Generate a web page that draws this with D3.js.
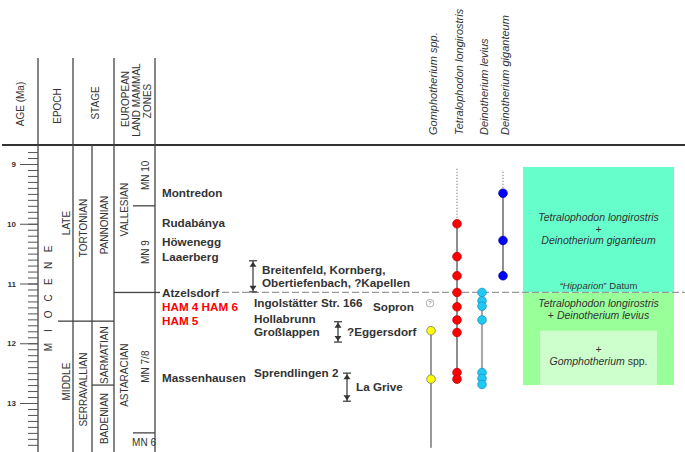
<!DOCTYPE html>
<html>
<head>
<meta charset="utf-8">
<script src="https://cdn.jsdelivr.net/npm/d3@7"></script>
<style>
  body { margin: 0; background: #fff; }
  svg { display: block; font-family: "Liberation Sans", Arial, sans-serif; }
</style>
</head>
<body>
<div id="chart"></div>
<script>
// ---- data (ages in Ma) ----
const ageMajor = [9, 10, 11, 12, 13];
const ageMinor = d3.range(88, 138).map(d => d / 10);

// chronostratigraphy: name, column, top, base
const unitNames = ["LATE", "MIDDLE", "TORTONIAN", "SERRAVALLIAN", "PANNONIAN", "SARMATIAN", "BADENIAN",
                   "VALLESIAN", "ASTARACIAN", "MN 10", "MN 9", "MN 7/8", "MN 6"];
const unitColumn = ["epoch", "epoch", "stageA", "stageA", "stageB", "stageB", "stageB",
                    "elma", "elma", "mn", "mn", "mn", "mn"];
const unitTop  = [8.68, 11.63, 8.68, 11.63, 8.68, 11.63, 12.7, 8.68, 11.15, 8.68, 9.7, 11.15, 13.5];
const unitBase = [11.63, 13.82, 11.63, 13.82, 11.63, 12.7, 13.82, 11.15, 13.82, 9.7, 11.15, 13.5, 13.82];

// localities
const sites = ["Montredon", "Rudabánya", "Höwenegg", "Laaerberg", "Atzelsdorf", "Massenhausen"];
const siteAges = [9.49, 9.99, 10.3, 10.55, 11.15, 12.58];
const hamSites = ["HAM 4 HAM 6", "HAM 5"];
const hamAges = [11.39, 11.62];
const sites2 = ["Ingolstätter Str. 166", "Hollabrunn", "Großlappen", "Sprendlingen 2"];
const sites2Ages = [11.33, 11.6, 11.81, 12.5];
const sopronAge = 11.39;
const rangeSites = [["Breitenfeld, Kornberg,", "Obertiefenbach, ?Kapellen"], ["?Eggersdorf"], ["La Grive"]];
const rangeFrom = [10.62, 11.64, 12.5];
const rangeTo   = [11.14, 11.98, 12.97];

// proboscidean records
const speciesNames = ["Gomphotherium spp.", "Tetralophodon longirostris", "Deinotherium levius", "Deinotherium giganteum"];
const gomphotheriumAges = [11.79, 12.6];
const tetralophodonAges = [10.0, 10.55, 10.87, 11.15, 11.39, 11.61, 11.82, 12.49, 12.6];
const leviusAges = [11.15, 11.29, 11.38, 11.61, 12.49, 12.59, 12.69];
const giganteumAges = [9.49, 10.28, 10.87];
const speciesRange = [[11.79, 13.75], [10.0, 12.6], [11.15, 12.69], [9.49, 10.87]];
const speciesDotted = [null, [9.08, 10.0], null, [9.13, 9.49]];
const uncertainAge = 11.33;

// assemblage zones
const hipparionDatum = 11.15;
const zoneTop  = [9.05, 11.15, 11.79];
const zoneBase = [11.15, 12.7, 12.7];

// ---- layout ----
const W = 685, H = 452;
const headerY = 145, headerTop = 58;
const ink = "#333";
const colX = { epoch: [58, 73], stageA: [73, 92], stageB: [92, 114], elma: [114, 133], mn: [133, 155] };
const unitShift = [-10, -5, -5, 3, -8, 2, 0, -9, 3, 0, 3, 4, 0];
const speciesX = [431, 457, 482, 503];
const speciesFill = ["#ffff00", "#ff0000", "#22c8f2", "#0000ff"];
const speciesStroke = ["#777", "#c00000", "#1596c8", "#0000a0"];
const speciesLine = ["#555", "#444", "#aaa", "#444"];
const speciesLineW = [1.2, 1.2, 2.2, 1.2];
const zoneFill = ["#66ffcc", "#99ff99", "#ccffcc"];
const zoneX = [[523, 674], [523, 674], [540, 657]];

const y = d3.scaleLinear().domain([9, 13]).range([164, 403]);

const svg = d3.select("#chart").append("svg")
    .attr("width", W).attr("height", H);

// ---- assemblage boxes (behind) ----
svg.selectAll(".zone")
    .data(zoneTop)
    .enter().append("rect")
    .attr("x", (d, i) => zoneX[i][0])
    .attr("width", (d, i) => zoneX[i][1] - zoneX[i][0])
    .attr("y", d => y(d))
    .attr("height", (d, i) => y(zoneBase[i]) - y(d))
    .attr("fill", (d, i) => zoneFill[i]);

function boxText(x, yy, parts, size) {
    const t = svg.append("text").attr("x", x).attr("y", yy).attr("text-anchor", "middle")
        .attr("font-size", size || 10.5).attr("fill", ink);
    parts.forEach(p => t.append("tspan").attr("font-style", p[1] ? "italic" : "normal").text(p[0]));
}
const bx = (zoneX[0][0] + zoneX[0][1]) / 2;
const c1 = (y(zoneTop[0]) + y(zoneBase[0])) / 2;
boxText(bx, c1 - 9, [["Tetralophodon longirostris", true]]);
boxText(bx, c1 + 3, [["+", false]]);
boxText(bx, c1 + 14, [["Deinotherium giganteum", true]]);
boxText(bx, y(hipparionDatum) - 3, [["\u201CHipparion", true], ["\u201D Datum", false]], 9.5);
boxText(bx, y(zoneTop[1]) + 15, [["Tetralophodon longirostris", true]]);
boxText(bx, y(zoneTop[1]) + 27, [["+ ", false], ["Deinotherium levius", true]]);
const c3 = (y(zoneTop[2]) + y(zoneBase[2])) / 2;
boxText(bx, c3 - 5, [["+", false]]);
boxText(bx, c3 + 7, [["Gomphotherium", true], [" spp.", false]]);

// ---- frame ----
svg.append("line").attr("x1", 2).attr("x2", W).attr("y1", headerY).attr("y2", headerY)
    .attr("stroke", ink).attr("stroke-width", 2);
[38, 73, 114, 155].forEach(x => {
    svg.append("line").attr("x1", x).attr("x2", x).attr("y1", headerTop).attr("y2", H)
        .attr("stroke", "#444").attr("stroke-width", 1.3);
});
svg.append("line").attr("x1", 92).attr("x2", 92).attr("y1", headerY).attr("y2", H)
    .attr("stroke", "#444").attr("stroke-width", 1.3);

// header captions
function vText(x, yy, txt, opts) {
    opts = opts || {};
    return svg.append("text")
        .attr("transform", `translate(${x},${yy}) rotate(-90)`)
        .attr("dy", "0.35em")
        .attr("text-anchor", opts.anchor || "middle")
        .attr("font-size", opts.size || 10)
        .attr("font-style", opts.italic ? "italic" : "normal")
        .attr("fill", ink)
        .text(txt);
}
vText(20, 104, "AGE (Ma)");
vText(57, 106, "EPOCH");
vText(95, 103, "STAGE");
vText(125, 99, "EUROPEAN");
vText(136, 100, "LAND MAMMAL");
vText(147, 101, "ZONES");

speciesNames.forEach((s, i) => vText(speciesX[i] + 2, 135, s, { anchor: "start", size: 11, italic: true }));

// ---- age axis ----
const minorAxis = svg.append("g").attr("transform", "translate(38,0)")
    .call(d3.axisLeft(y).tickValues(ageMinor).tickSize(10).tickFormat(""));
const majorAxis = svg.append("g").attr("transform", "translate(38,0)")
    .call(d3.axisLeft(y).tickValues(ageMajor).tickSize(18).tickPadding(4).tickFormat(d3.format("d")));
[minorAxis, majorAxis].forEach(g => {
    g.select(".domain").remove();
    g.selectAll(".tick line").attr("stroke", "#555").attr("stroke-width", 1);
});
majorAxis.selectAll(".tick text").attr("font-size", 8).attr("font-weight", "bold")
    .attr("fill", ink).attr("font-family", "Liberation Sans, Arial, sans-serif");

// ---- chronostratigraphic units ----
unitNames.forEach((name, i) => {
    const [x0, x1] = colX[unitColumn[i]];
    const t = y(unitTop[i]), b = y(unitBase[i]);
    if (unitTop[i] > 8.7) {
        svg.append("line").attr("x1", x0).attr("x2", x1).attr("y1", t).attr("y2", t)
            .attr("stroke", "#444").attr("stroke-width", 1.3);
    }
    const cx = (x0 + x1) / 2 + 1, cy = (t + b) / 2 + unitShift[i];
    if (b - t < 30) {
        svg.append("text").attr("x", cx - 1).attr("y", cy + 4).attr("text-anchor", "middle")
            .attr("font-size", 10).attr("fill", ink).text(name);
    } else {
        vText(cx, cy, name);
    }
});
// extend Atzelsdorf boundary a little
svg.append("line").attr("x1", 155).attr("x2", 160).attr("y1", y(hipparionDatum)).attr("y2", y(hipparionDatum))
    .attr("stroke", "#444").attr("stroke-width", 1.3);

// MIOCENE spelled letter by letter down the epoch column
const miocene = "MIOCENE".split("");
const letterY = d3.scaleLinear().domain([0, miocene.length - 1]).range([347, 249]);
miocene.forEach((ch, i) => vText(48, letterY(i), ch));

// ---- datum line ----
svg.append("line").attr("x1", 222).attr("x2", W)
    .attr("y1", y(hipparionDatum)).attr("y2", y(hipparionDatum))
    .attr("stroke", "#999").attr("stroke-width", 1.3).attr("stroke-dasharray", "7,3");

// ---- localities ----
function siteLabel(x, age, txt, color) {
    svg.append("text").attr("x", x).attr("y", y(age)).attr("dy", "0.35em")
        .attr("font-size", 11.7).attr("font-weight", "bold").attr("fill", color || ink).text(txt);
}
sites.forEach((s, i) => siteLabel(162, siteAges[i], s));
hamSites.forEach((s, i) => siteLabel(162, hamAges[i], s, "#ff0000"));
sites2.forEach((s, i) => siteLabel(254, sites2Ages[i], s));
siteLabel(373, sopronAge, "Sopron");

const rangeX = [253, 338, 347];
rangeSites.forEach((lines, i) => {
    const x = rangeX[i], y0 = y(rangeFrom[i]), y1 = y(rangeTo[i]);
    const g = svg.append("g").attr("fill", ink).attr("stroke", ink);
    g.append("line").attr("x1", x).attr("x2", x).attr("y1", y0).attr("y2", y1).attr("stroke-width", 1.2);
    g.append("line").attr("x1", x - 4).attr("x2", x + 4).attr("y1", y0).attr("y2", y0).attr("stroke-width", 1.2);
    g.append("line").attr("x1", x - 4).attr("x2", x + 4).attr("y1", y1).attr("y2", y1).attr("stroke-width", 1.2);
    g.append("path").attr("stroke", "none")
        .attr("d", `M${x - 3.5},${y0 + 6}L${x + 3.5},${y0 + 6}L${x},${y0 + 1}Z`);
    g.append("path").attr("stroke", "none")
        .attr("d", `M${x - 3.5},${y1 - 6}L${x + 3.5},${y1 - 6}L${x},${y1 - 1}Z`);
    const mid = (y0 + y1) / 2;
    lines.forEach((l, j) => {
        svg.append("text").attr("x", x + 9).attr("y", mid + (j - (lines.length - 1) / 2) * 13)
            .attr("dy", "0.35em").attr("font-size", 11.7).attr("font-weight", "bold")
            .attr("fill", ink).text(l);
    });
});

// ---- species ranges ----
const speciesAges = [gomphotheriumAges, tetralophodonAges, leviusAges, giganteumAges];
speciesNames.forEach((s, i) => {
    const x = speciesX[i];
    if (speciesDotted[i]) {
        svg.append("line").attr("x1", x).attr("x2", x)
            .attr("y1", y(speciesDotted[i][0])).attr("y2", y(speciesDotted[i][1]))
            .attr("stroke", "#555").attr("stroke-width", 1).attr("stroke-dasharray", "1,2");
    }
    svg.append("line").attr("x1", x).attr("x2", x)
        .attr("y1", y(speciesRange[i][0])).attr("y2", y(speciesRange[i][1]))
        .attr("stroke", speciesLine[i]).attr("stroke-width", speciesLineW[i]);
    svg.selectAll(".pt" + i)
        .data(speciesAges[i])
        .enter().append("circle")
        .attr("cx", x).attr("cy", d => y(d)).attr("r", 4.3)
        .attr("fill", speciesFill[i]).attr("stroke", speciesStroke[i]).attr("stroke-width", 0.8);
});

// uncertain record
svg.append("circle").attr("cx", speciesX[0] - 1).attr("cy", y(uncertainAge)).attr("r", 3.8)
    .attr("fill", "#fff").attr("stroke", "#999").attr("stroke-width", 0.8);
svg.append("text").attr("x", speciesX[0] - 1).attr("y", y(uncertainAge)).attr("dy", "0.35em")
    .attr("text-anchor", "middle").attr("font-size", 6).attr("fill", "#888").text("?");
</script>
</body>
</html>
